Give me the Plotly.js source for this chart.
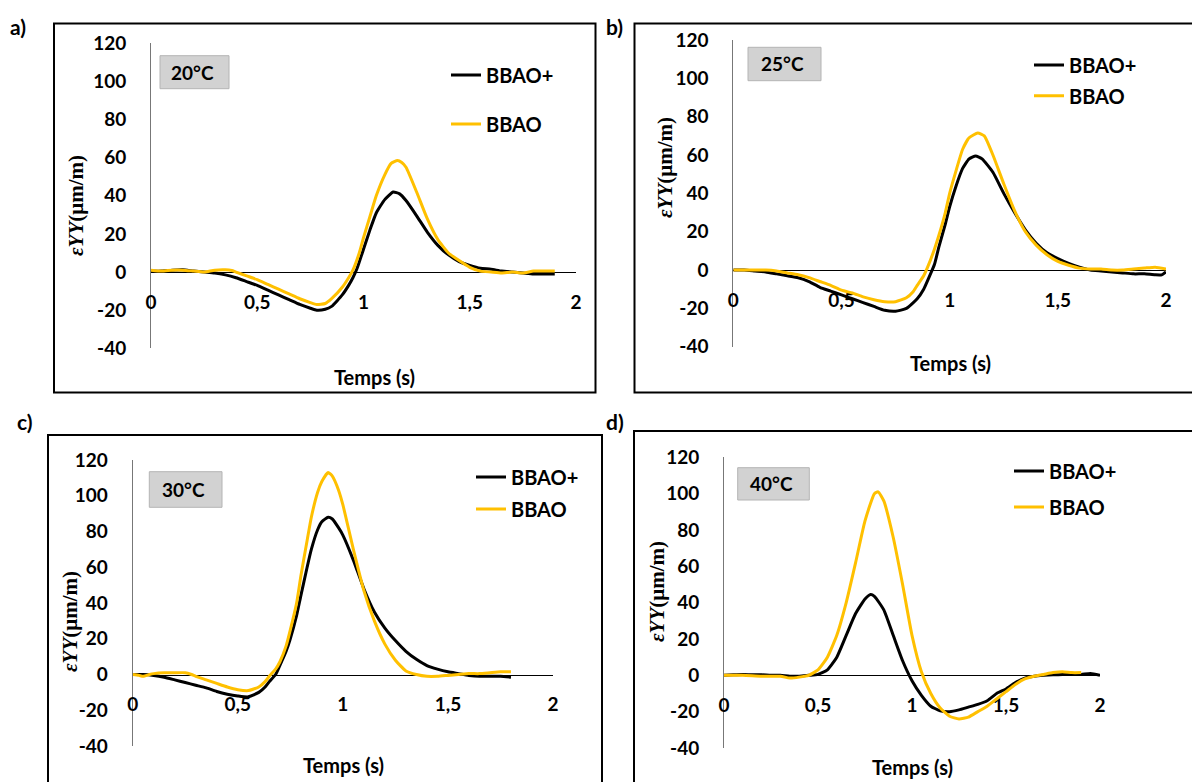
<!DOCTYPE html>
<html>
<head>
<meta charset="utf-8">
<script src="https://cdn.plot.ly/plotly-3.0.1.min.js"></script>
<style>html,body{margin:0;padding:0;background:#fff}#chart{width:1192px;height:782px}</style>
</head>
<body>
<div id="chart"></div>
<script>
// ---------- DATA ----------
const seriesNames = ['BBAO+', 'BBAO'];
const panelLetters = ['a)', 'b)', 'c)', 'd)'];
const temperatures = ['20°C', '25°C', '30°C', '40°C'];
const xTickVals = [0, 0.5, 1, 1.5, 2];
const xTickText = ['0', '0,5', '1', '1,5', '2'];
const yTickVals = [-40, -20, 0, 20, 40, 60, 80, 100, 120];
const yTickText = ['-40', '-20', '0', '20', '40', '60', '80', '100', '120'];
const xTitle = 'Temps (s)';
const yTitle = '<b><i>εYY</i>(μm/m)</b>';

// a) 20°C
const tA_plus = [0,0.05,0.1,0.15,0.2,0.25,0.3,0.35,0.4,0.45,0.5,0.55,0.6,0.65,0.7,0.75,0.78,0.82,0.85,0.9,0.93,0.95,0.97,1.0,1.03,1.06,1.1,1.14,1.17,1.2,1.25,1.3,1.35,1.4,1.45,1.5,1.55,1.6,1.65,1.7,1.75,1.8,1.85,1.9];
const A_plus  = [0.5,0.5,1,1.2,0.5,0,-0.5,-1.5,-3,-5,-7,-9.5,-12,-14.5,-17,-19,-20,-19.5,-18,-12,-7,-3,2,12,22,31,38,42,41,37.5,29.5,21,14,9,5.5,3.5,2,1.5,0.5,0,-0.5,-1,-1,-1];
const tA_o = [0,0.05,0.1,0.15,0.2,0.25,0.3,0.35,0.38,0.4,0.45,0.5,0.55,0.6,0.65,0.7,0.75,0.78,0.82,0.85,0.9,0.93,0.95,0.98,1.0,1.03,1.06,1.1,1.13,1.16,1.18,1.2,1.25,1.3,1.35,1.4,1.45,1.5,1.55,1.6,1.65,1.7,1.75,1.8,1.85,1.9];
const A_o  = [1,0.5,1,1,0.5,0,1,1.2,0.8,0,-2,-4,-6.5,-9,-11.5,-14,-16,-17,-16.5,-14,-8,-3,1,10,18,29,40,51,57,58.5,57.5,55,42,28,17,10,6,2.5,0.5,0,-0.5,0,-0.5,0.5,0.5,0.5];

// b) 25°C
const tB_plus = [0,0.05,0.1,0.15,0.2,0.25,0.3,0.35,0.4,0.45,0.5,0.55,0.6,0.65,0.7,0.75,0.8,0.85,0.88,0.9,0.93,0.95,0.98,1.0,1.03,1.06,1.09,1.12,1.15,1.2,1.25,1.3,1.35,1.4,1.45,1.5,1.55,1.6,1.65,1.7,1.75,1.8,1.85,1.9,1.95,1.98,2.0];
const B_plus  = [0,0,-0.5,-1,-2,-3,-4,-6,-9,-11,-13,-15,-17,-19,-21,-21.5,-20,-15,-10,-5,3,12,24,33,44,53,58,59.5,58,51,40,30,21,14,9,6,3.5,1.5,0,-0.5,-1,-1.5,-2,-2,-2.5,-2.5,-1];
const tB_o = [0,0.05,0.1,0.15,0.2,0.25,0.3,0.35,0.4,0.45,0.5,0.55,0.6,0.65,0.7,0.75,0.8,0.83,0.85,0.88,0.9,0.93,0.95,0.98,1.0,1.03,1.06,1.09,1.13,1.16,1.2,1.25,1.3,1.35,1.4,1.45,1.5,1.55,1.6,1.65,1.7,1.75,1.8,1.85,1.9,1.95,2.0];
const B_o  = [0,0,0,0,-0.5,-1.5,-2.5,-4,-6,-8,-10.5,-12,-14,-15.5,-16.5,-16.5,-14.5,-11.5,-8,-3,2,11,18,30,40,52,63,69,71.5,70,60,45,31,20,13,8,4.5,2.5,1,0.5,0.5,0,0,0.5,1,1.5,0.5];

// c) 30°C
const tC_plus = [0,0.05,0.1,0.15,0.2,0.25,0.3,0.35,0.4,0.45,0.5,0.55,0.6,0.63,0.65,0.68,0.7,0.73,0.75,0.78,0.8,0.83,0.85,0.88,0.9,0.93,0.95,0.98,1.0,1.05,1.1,1.15,1.2,1.25,1.3,1.35,1.4,1.45,1.5,1.55,1.6,1.65,1.7,1.75,1.8];
const C_plus  = [0,0,-0.5,-1.5,-3,-4.5,-6,-7.5,-9.5,-11,-12,-12.5,-10,-7,-4,0,5,13,20,33,44,60,70,81,85.5,88,87,82,78,64,48,35,26,19,13,8.5,5,3,1.5,0.5,-0.5,-1,-1,-1,-1.5];
const tC_o = [0,0.03,0.05,0.08,0.1,0.15,0.2,0.25,0.28,0.3,0.35,0.4,0.45,0.5,0.55,0.6,0.63,0.65,0.68,0.7,0.73,0.75,0.78,0.8,0.83,0.85,0.88,0.9,0.93,0.95,0.98,1.0,1.05,1.1,1.15,1.2,1.25,1.3,1.35,1.4,1.45,1.5,1.55,1.6,1.65,1.7,1.75,1.8];
const C_o  = [0,-0.5,-1,0,0.5,1,1,1,0,-1,-3,-5,-7,-8.5,-9,-7,-4,-1,3,7,16,25,40,55,75,88,102,108,113,111,103,95,70,47,30,17,8,2,0,-1,-1,-0.5,0,0.5,0.5,1,1.5,1.5];

// d) 40°C
const tD_plus = [0,0.05,0.1,0.15,0.2,0.25,0.3,0.35,0.4,0.45,0.5,0.55,0.6,0.65,0.7,0.75,0.78,0.8,0.85,0.9,0.95,1.0,1.05,1.1,1.15,1.2,1.25,1.3,1.35,1.4,1.45,1.5,1.55,1.6,1.65,1.7,1.75,1.8,1.85,1.9,1.95,2.0];
const D_plus  = [0,0.3,0.5,0.3,0.3,0,0,-0.5,-0.5,0,0.5,3,10,22,34,42,44.5,43.5,36,22,8,-3,-11,-17,-19.5,-20,-19,-17.5,-16,-14,-10,-7.5,-4,-1.5,-0.5,0,0.3,0.5,0.5,0.5,1,0];
const tD_o = [0,0.1,0.2,0.3,0.35,0.4,0.45,0.5,0.55,0.6,0.65,0.7,0.75,0.8,0.82,0.85,0.9,0.95,1.0,1.05,1.1,1.15,1.2,1.25,1.3,1.35,1.4,1.45,1.5,1.55,1.6,1.65,1.7,1.75,1.8,1.85,1.9];
const D_o  = [0,0,-0.5,-0.5,-1.5,-1,0,3,10,22,40,62,85,100,101,96,76,50,22,2,-10,-18,-22.5,-24,-23,-20,-17,-13,-9,-5,-2,-0.5,0.5,1.5,2,1.5,1.5];

const timeData = [[tA_plus, tA_o], [tB_plus, tB_o], [tC_plus, tC_o], [tD_plus, tD_o]];
const valueData = [[A_plus, A_o], [B_plus, B_o], [C_plus, C_o], [D_plus, D_o]];

// ---------- LAYOUT GEOMETRY (pixels) ----------
const W = 1192, H = 782;
const fx = x => x / W;
const fy = y => 1 - y / H;
const colors = ['#000000', '#FFC000'];
const FONT = 'Lato, "Open Sans", sans-serif';

const panels = [
  {x0:151, x2:576, top:43.3, bot:348.3, box:[54,23.5,595.5,392.5], letter:[18,26], temp:[160,55.7,229,88.7],
   yt:[76,206], xt:[374,377], leg:[446,75,124]},
  {x0:733.3, x2:1166, top:40, bot:346.7, box:[634.5,23.5,1210,392.5], letter:[614,26], temp:[748,47.3,821,80.7],
   yt:[665,168], xt:[950,363], leg:[1029,65,95.7]},
  {x0:132.7, x2:553, top:460, bot:746, box:[48,435,602,800], letter:[25,422], temp:[149.3,471.7,222,507.3],
   yt:[70,622], xt:[343,765], leg:[471,477,509]},
  {x0:724, x2:1100, top:457.3, bot:748, box:[634,431,1210,800], letter:[615,421], temp:[737.7,467.7,809.3,500],
   yt:[657,592], xt:[912,767], leg:[1009,471,507]}
];

const traces = [];
const layout = {
  width: W, height: H,
  margin: {l:0, r:0, t:0, b:0},
  paper_bgcolor: '#ffffff', plot_bgcolor: 'rgba(0,0,0,0)',
  showlegend: true,
  font: {family: FONT, color: '#000'},
  shapes: [], annotations: []
};

panels.forEach((p, i) => {
  const n = i === 0 ? '' : String(i + 1);
  const zeroPx = p.top + (p.bot - p.top) * 120 / 160;
  layout['xaxis' + n] = {
    domain: [fx(p.x0), fx(p.x2)], range: [0, 2], anchor: 'free', position: fy(zeroPx),
    showline: true, linecolor: '#000', linewidth: 1, showgrid: false, zeroline: false,
    tickmode: 'array', tickvals: xTickVals, ticktext: xTickText, ticks: '', ticklabelstandoff: 13,
    tickfont: {family: FONT, size: 19, weight: 700, color: '#000'}, layer: 'below traces', fixedrange: true
  };
  layout['yaxis' + n] = {
    domain: [fy(p.bot), fy(p.top)], range: [-40, 120], anchor: 'x' + n,
    showline: true, linecolor: '#777', linewidth: 1, showgrid: false, zeroline: false,
    tickmode: 'array', tickvals: yTickVals, ticktext: yTickText, ticks: '', ticklabelstandoff: 20,
    tickfont: {family: FONT, size: 19, weight: 700, color: '#000'}, layer: 'below traces', fixedrange: true
  };
  // outer panel frame
  layout.shapes.push({type:'rect', xref:'paper', yref:'paper', x0:fx(p.box[0]), x1:fx(p.box[2]), y0:fy(p.box[3]), y1:fy(p.box[1]),
    line:{color:'#000', width:2}, fillcolor:'rgba(0,0,0,0)'});
  // temperature tag
  layout.shapes.push({type:'rect', xref:'paper', yref:'paper', x0:fx(p.temp[0]), x1:fx(p.temp[2]), y0:fy(p.temp[3]), y1:fy(p.temp[1]),
    line:{color:'#b4b4b4', width:1}, fillcolor:'#d2d2d2'});
  layout.annotations.push({xref:'paper', yref:'paper', x:fx((p.temp[0]+p.temp[2])/2 - 2), y:fy((p.temp[1]+p.temp[3])/2),
    text: temperatures[i], showarrow:false, xanchor:'center', yanchor:'middle',
    font:{family:FONT, size:19, weight:700, color:'#000'}});
  // panel letter
  layout.annotations.push({xref:'paper', yref:'paper', x:fx(p.letter[0]), y:fy(p.letter[1]), text: panelLetters[i],
    showarrow:false, xanchor:'center', yanchor:'middle', font:{family:FONT, size:21, weight:700, color:'#000'}});
  // axis titles
  layout.annotations.push({xref:'paper', yref:'paper', x:fx(p.yt[0]), y:fy(p.yt[1]), text: yTitle, textangle:-90,
    showarrow:false, xanchor:'center', yanchor:'middle', font:{family:'"Liberation Serif", "DejaVu Serif", serif', size:21, color:'#000'}});
  layout.annotations.push({xref:'paper', yref:'paper', x:fx(p.xt[0]), y:fy(p.xt[1]), text: xTitle,
    showarrow:false, xanchor:'center', yanchor:'middle', font:{family:FONT, size:20, weight:700, color:'#000'}});
  // traces + legends
  seriesNames.forEach((name, k) => {
    const lg = 'legend' + (i * 2 + k === 0 ? '' : String(i * 2 + k + 1));
    traces.push({
      type:'scatter', mode:'lines', name: name,
      x: timeData[i][k], y: valueData[i][k],
      xaxis: 'x' + n, yaxis: 'y' + n,
      line: {color: colors[k], width: 3, shape: 'spline', smoothing: 0.5},
      legend: lg, hoverinfo: 'skip'
    });
    layout[lg] = {x: fx(p.leg[0]), y: fy(p.leg[1 + k]), xanchor:'left', yanchor:'middle',
      bgcolor:'rgba(0,0,0,0)', borderwidth:0, font:{family:FONT, size:20, weight:700, color:'#000'}};
  });
});

Plotly.newPlot('chart', traces, layout, {staticPlot: true, displayModeBar: false});
</script>
</body>
</html>
